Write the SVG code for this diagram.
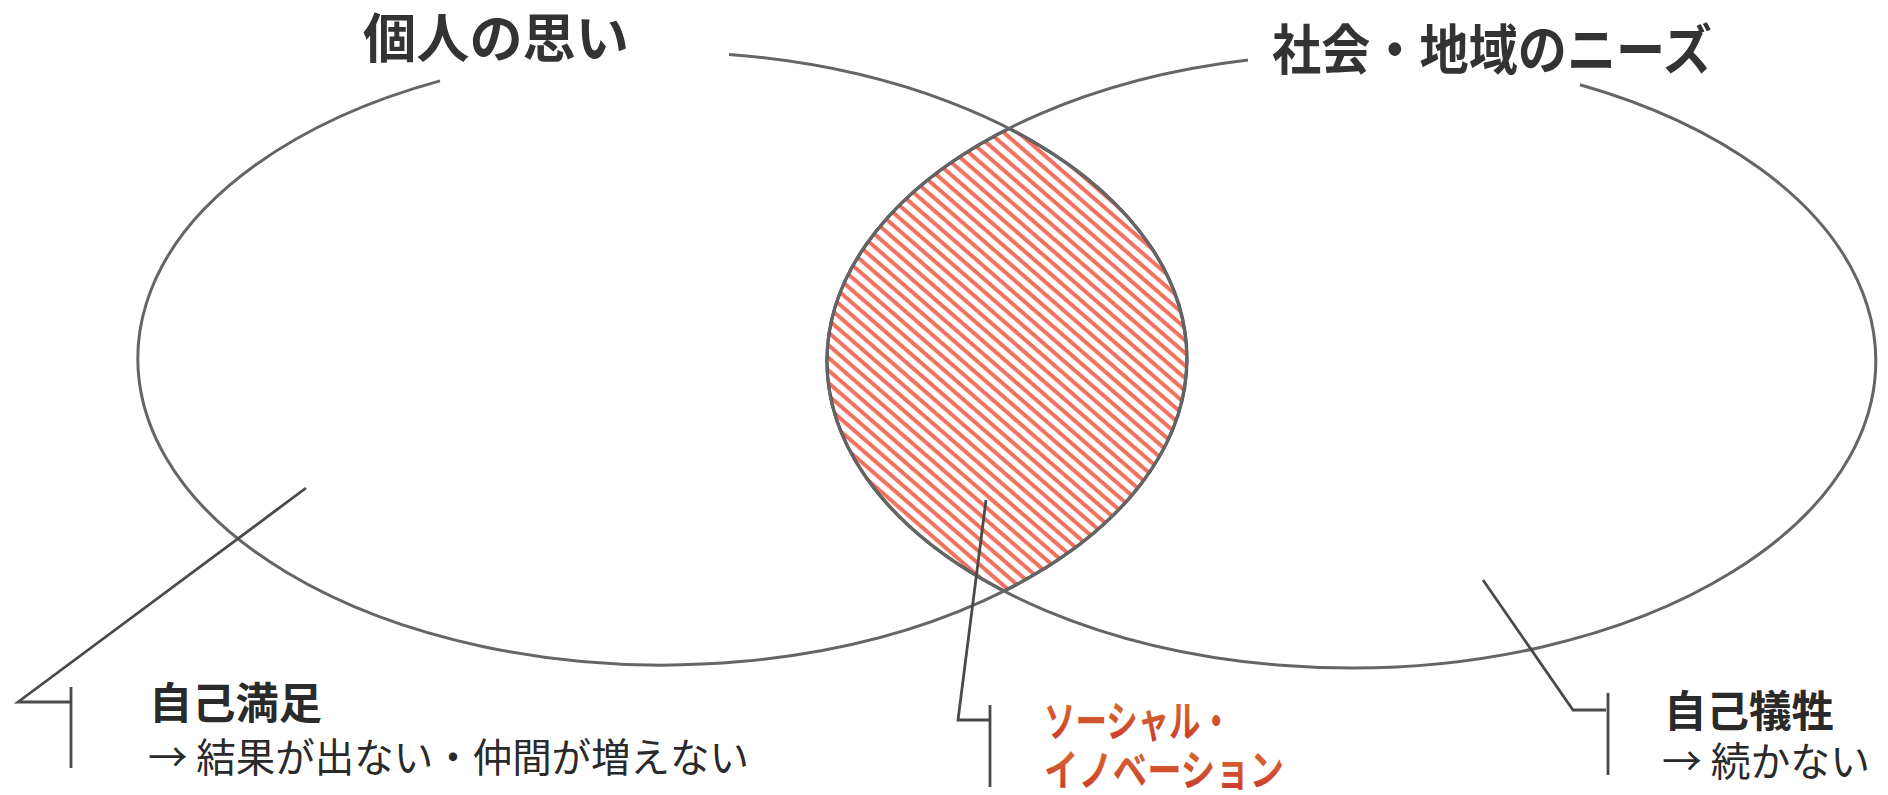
<svg xmlns="http://www.w3.org/2000/svg" width="1888" height="795" viewBox="0 0 1888 795">
<style>
.ring{fill:none;stroke:#656565;stroke-width:3}
.lens{fill:none;stroke:#444;stroke-width:3.2}
.lead{fill:none;stroke:#4a4a4a;stroke-width:2.8}
.title{font-family:"Noto Sans CJK JP","Noto Sans",sans-serif;font-weight:700;fill:#333}
.head{font-family:"Noto Sans CJK JP","Noto Sans",sans-serif;font-weight:700;fill:#2a2a2a}
.body{font-family:"Noto Sans CJK JP","Noto Sans",sans-serif;font-weight:400;fill:#2a2a2a}
.red{font-family:"Noto Sans CJK JP","Noto Sans",sans-serif;font-weight:700}
</style>
<defs>
<pattern id="hatch" width="40" height="9.5" patternUnits="userSpaceOnUse" patternTransform="rotate(41)">
<rect x="0" y="0" width="40" height="4" fill="#f2705e"/>
</pattern>
<clipPath id="clipR"><ellipse cx="1351.5" cy="361" rx="524.5" ry="307"/></clipPath>
<clipPath id="clipL"><ellipse cx="662.5" cy="358.5" rx="524.5" ry="306.5"/></clipPath>
<linearGradient id="rg1" x1="0" y1="0" x2="0" y2="1">
<stop offset="0" stop-color="#dc7a34"/><stop offset="1" stop-color="#c8332a"/>
</linearGradient>
</defs>
<g id="intersection">
<ellipse cx="662.5" cy="358.5" rx="524.5" ry="306.5" fill="url(#hatch)" clip-path="url(#clipR)"/>
<ellipse class="lens" cx="662.5" cy="358.5" rx="524.5" ry="306.5" clip-path="url(#clipR)"/>
<ellipse class="lens" cx="1351.5" cy="361" rx="524.5" ry="307" clip-path="url(#clipL)"/>
</g>
<g id="personal">
<path class="ring" d="M 729,54.5 A 524.5 306.5 0 1 1 440,80.9"/>
<text class="title" x="363" y="58" font-size="53" textLength="266" lengthAdjust="spacingAndGlyphs">個人の思い</text>
</g>
<g id="society">
<path class="ring" d="M 1580,84.7 A 524.5 307 0 1 1 1248,60"/>
<text class="title" x="1272" y="70" font-size="54" textLength="440" lengthAdjust="spacingAndGlyphs">社会・地域のニーズ</text>
</g>
<g id="connectors">
<polyline class="lead" points="306,488 18,702 70,702"/>
<line class="lead" x1="71" y1="687" x2="71" y2="768"/>
<polyline class="lead" points="986,500 958,720 989,720"/>
<line class="lead" x1="990" y1="705" x2="990" y2="787"/>
<polyline class="lead" points="1483,580 1573,710 1606,710"/>
<line class="lead" x1="1608" y1="693" x2="1608" y2="775"/>
</g>
<g id="label-self-satisfaction">
<text class="head" x="149" y="719" font-size="43" textLength="173" lengthAdjust="spacingAndGlyphs">自己満足</text>
<text class="body" x="148" y="772" font-size="40" textLength="601" lengthAdjust="spacingAndGlyphs">→ 結果が出ない・仲間が増えない</text>
</g>
<g id="label-social-innovation">
<text class="red" x="1044" y="737" font-size="43" fill="url(#rg1)" textLength="188" lengthAdjust="spacingAndGlyphs">ソーシャル・</text>
<text class="red" x="1044" y="786" font-size="43" fill="url(#rg1)" textLength="240" lengthAdjust="spacingAndGlyphs">イノベーション</text>
</g>
<g id="label-self-sacrifice">
<text class="head" x="1664" y="727" font-size="43" textLength="170" lengthAdjust="spacingAndGlyphs">自己犠牲</text>
<text class="body" x="1662" y="776" font-size="40" textLength="208" lengthAdjust="spacingAndGlyphs">→ 続かない</text>
</g>
</svg>
